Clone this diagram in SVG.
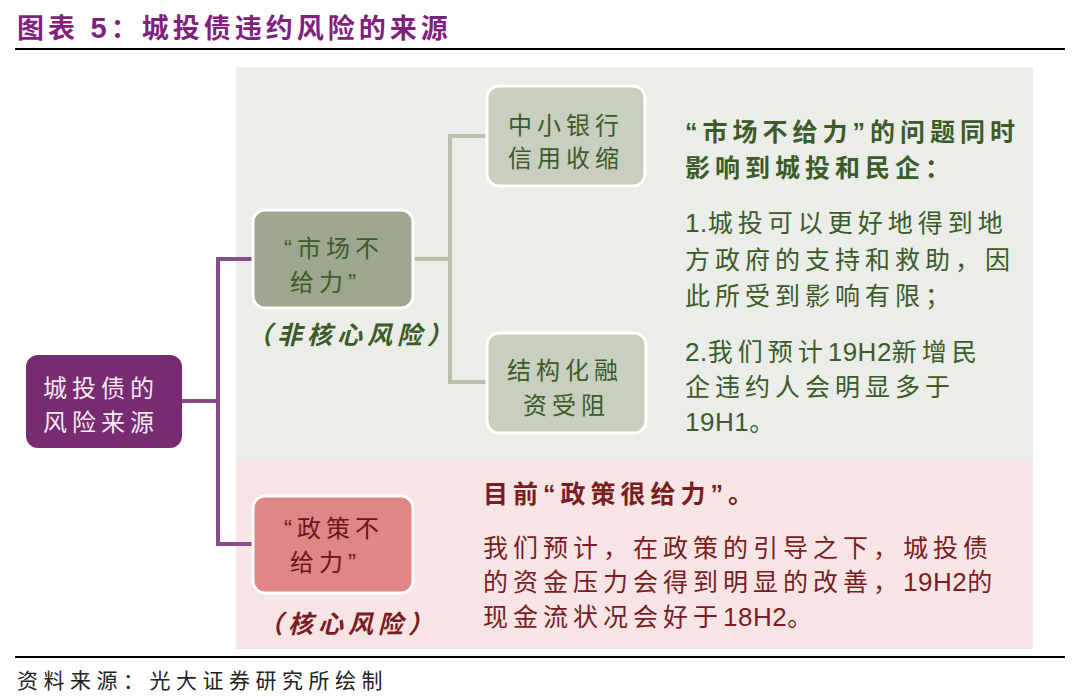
<svg xmlns="http://www.w3.org/2000/svg" width="1080" height="697" viewBox="0 0 1080 697">
<style>
  .t { font-family: "Liberation Sans", "Noto Sans CJK SC", sans-serif; }
  .node { font-size: 24px; letter-spacing: 5px; }
  .g { fill: #3C5A2A; }
  .r { fill: #7A1C21; }
  .body { font-size: 25px; letter-spacing: 5px; }
  .bold { font-weight: bold; }
  .lbl { font-size: 25px; font-weight: bold; font-style: italic; letter-spacing: 5px; }
  .box { stroke: #FFFFFF; stroke-width: 3; }
  .n { letter-spacing: 0.5px; font-size: 26px; }
</style>
<rect width="1080" height="697" fill="#FFFFFF"/>
<text class="t bold" x="17" y="38" font-size="27" fill="#7F1F7E" letter-spacing="4">图表 <tspan font-size="29">5</tspan>：城投债违约风险的来源</text>
<line x1="15" y1="49" x2="1065" y2="49" stroke="#000" stroke-width="2"/>
<rect x="236" y="67" width="797" height="392" fill="#EBEDE8"/>
<rect x="236" y="459" width="797" height="190" fill="#F7E5E6"/>
<line x1="15" y1="657" x2="1065" y2="657" stroke="#000" stroke-width="2"/>
<text class="t" x="17" y="688" font-size="21" fill="#222" letter-spacing="5.5">资料来源：光大证券研究所绘制</text>
<g id="connectors" fill="none" stroke-width="4">
  <path d="M182,401 H218 M253,259 H218 V544 H253" stroke="#8A4D8B"/>
  <path d="M413,259 H450 M487,136 H450 V382 H487" stroke="#B8C1AE"/>
</g>
<g id="root">
  <rect x="26" y="355" width="156" height="93" rx="12" fill="#772B70"/>
  <text class="t node" fill="#F3EAF2"><tspan x="43" y="397">城投债的</tspan><tspan x="43" y="431">风险来源</tspan></text>
</g>
<g id="market">
  <rect class="box" x="253" y="210" width="160" height="98" rx="12" fill="#9DA78F"/>
  <text class="t node g"><tspan x="284" y="257">“市场不</tspan><tspan x="290" y="291">给力”</tspan></text>
  <text class="t lbl g" x="247" y="344">（非核心风险）</text>
</g>
<g id="bank">
  <rect class="box" x="487" y="86" width="158" height="100" rx="12" fill="#C8CFBE"/>
  <text class="t node g"><tspan x="508" y="134">中小银行</tspan><tspan x="508" y="167">信用收缩</tspan></text>
</g>
<g id="struct">
  <rect class="box" x="487" y="333" width="159" height="100" rx="12" fill="#C8CFBE"/>
  <text class="t node g"><tspan x="507" y="379">结构化融</tspan><tspan x="523" y="414">资受阻</tspan></text>
</g>
<g id="market-text">
  <text class="t body bold g"><tspan x="685" y="141">“市场不给力”的问题同时</tspan><tspan x="685" y="177">影响到城投和民企：</tspan></text>
  <text class="t body g"><tspan x="685" y="232"><tspan class="n">1.</tspan>城投可以更好地得到地</tspan><tspan x="685" y="269">方政府的支持和救助，因</tspan><tspan x="685" y="305">此所受到影响有限；</tspan></text>
  <text class="t body g"><tspan x="685" y="361"><tspan class="n">2.</tspan>我们预计<tspan class="n">19H2</tspan>新增民</tspan><tspan x="685" y="396">企违约人会明显多于</tspan><tspan x="685" y="431"><tspan class="n">19H1</tspan>。</tspan></text>
</g>
<g id="policy">
  <rect class="box" x="253" y="496" width="160" height="97" rx="12" fill="#E08686"/>
  <text class="t node" fill="#6B1518"><tspan x="284" y="537">“政策不</tspan><tspan x="290" y="571">给力”</tspan></text>
  <text class="t lbl r" x="258" y="633">（核心风险）</text>
</g>
<g id="policy-text">
  <text class="t body bold r" x="483" y="503">目前“政策很给力”。</text>
  <text class="t body r"><tspan x="483" y="557">我们预计，在政策的引导之下，城投债</tspan><tspan x="483" y="591">的资金压力会得到明显的改善，<tspan class="n">19H2</tspan>的</tspan><tspan x="483" y="626">现金流状况会好于<tspan class="n">18H2</tspan>。</tspan></text>
</g>
</svg>
